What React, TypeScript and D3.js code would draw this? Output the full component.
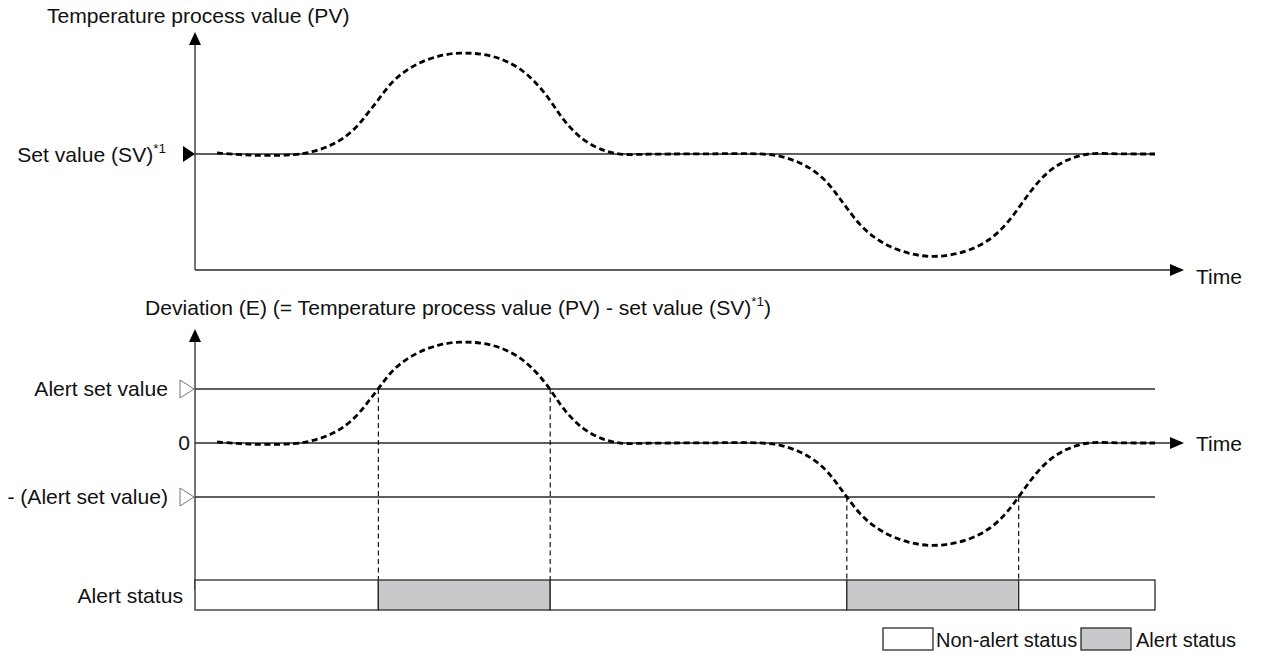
import * as d3 from "d3";

// time runs 0..100 across the plot, deviation is in "alert set value" units
const times = [
  2.3, 5, 7.5, 10.5, 12.3, 14.1, 15.4, 16.9, 18, 19.1, 20.3, 21.7, 23.4, 25.5, 27.6, 29.7, 31.8, 33.9, 35.6, 37,
  38, 39.1, 40.4, 41.9, 43.2, 44.6, 47, 52, 57.2, 59.5, 61.2, 62.9, 64.3, 65.8, 66.9, 67.9, 69.2, 70.6, 72.3, 74.4,
  76.5, 78.6, 80.7, 82.8, 84.5, 85.8, 86.9, 88, 89.3, 90.8, 92.1, 93.5, 96, 100,
];
const deviation = [
  0.02, -0.02, -0.03, -0.02, 0.04, 0.15, 0.28, 0.5, 0.76, 1.0, 1.3, 1.52, 1.7, 1.83, 1.88, 1.86, 1.78, 1.59, 1.31, 1.0,
  0.72, 0.48, 0.26, 0.11, 0.03, -0.02, 0.0, 0.0, 0.01, 0.0, -0.04, -0.15, -0.28, -0.5, -0.76, -1.0, -1.31, -1.53, -1.72, -1.85,
  -1.91, -1.88, -1.79, -1.6, -1.31, -1.0, -0.72, -0.48, -0.26, -0.11, -0.03, 0.02, 0.0, 0.0,
];
const alertSetValue = 1;
const statusStart = [0, 19.1, 37, 67.9, 85.8];
const statusEnd = [19.1, 37, 67.9, 85.8, 100];
const statusAlert = [false, true, false, true, false];
const legendLabels = ["Non-alert status", "Alert status"];

const FONT = "'Liberation Sans', Arial, sans-serif";
const AXIS = "#2b2b2b";
const GRAY = "#c8c9cb";

export default function App(): JSX.Element {
  const x = d3.scaleLinear().domain([0, 100]).range([195, 1155]);
  const yTop = d3.scaleLinear().domain([0, 1]).range([154, 100]);
  const yBot = d3.scaleLinear().domain([0, 1]).range([443, 389]);

  const pts = times.map((t, i) => [t, deviation[i]] as [number, number]);
  const topPath = d3
    .line<[number, number]>()
    .x((d) => x(d[0]))
    .y((d) => yTop(d[1]))
    .curve(d3.curveBasis)(pts);
  const botPath = d3
    .line<[number, number]>()
    .x((d) => x(d[0]))
    .y((d) => yBot(d[1]))
    .curve(d3.curveBasis)(pts);

  const barTop = 580;
  const barBot = 610;
  const crossings = statusStart.slice(1);

  const txt = { fontFamily: FONT, fontSize: 21.1, fill: "#111" };
  const legTxt = { fontFamily: FONT, fontSize: 20, fill: "#111" };

  return (
    <svg width={1266} height={659} style={{ position: "absolute", left: 0, top: 0, background: "#fff" }}>
      {/* ---- top chart: PV ---- */}
      <text x={47} y={23} {...txt}>Temperature process value (PV)</text>
      <line x1={x(0)} x2={x(0)} y1={270} y2={42} stroke={AXIS} strokeWidth={1.3} />
      <path d={`M${x(0)},32 L${x(0) - 6},45 L${x(0) + 6},45 Z`} fill="#000" />
      <line x1={x(0)} x2={1172} y1={270} y2={270} stroke={AXIS} strokeWidth={1.3} />
      <path d={`M1184,270 L1170,264 L1170,276 Z`} fill="#000" />
      <text x={1196} y={284} {...txt}>Time</text>
      <line x1={x(0)} x2={x(100)} y1={yTop(0)} y2={yTop(0)} stroke={AXIS} strokeWidth={1.3} />
      <path d={`M${x(0)},${yTop(0)} L${x(0) - 12},${yTop(0) - 8} L${x(0) - 12},${yTop(0) + 8} Z`} fill="#000" />
      <text x={166} y={162} textAnchor="end" {...txt}>
        Set value (SV)<tspan fontSize={13.5} dy={-9}>*1</tspan>
      </text>
      <path d={topPath ?? ""} fill="none" stroke="#000" strokeWidth={2.8} strokeDasharray="6,3.5" />

      {/* ---- bottom chart: deviation ---- */}
      <text x={145} y={315} {...txt}>
        Deviation (E) (= Temperature process value (PV) - set value (SV)
        <tspan fontSize={13.5} dy={-9}>*1</tspan>
        <tspan dy={9}>)</tspan>
      </text>
      <line x1={x(0)} x2={x(0)} y1={590} y2={340} stroke={AXIS} strokeWidth={1.3} />
      <path d={`M${x(0)},329 L${x(0) - 6},342 L${x(0) + 6},342 Z`} fill="#000" />
      {[alertSetValue, -alertSetValue].map((v) => (
        <g key={v}>
          <line x1={x(0)} x2={x(100)} y1={yBot(v)} y2={yBot(v)} stroke={AXIS} strokeWidth={1.3} />
          <path
            d={`M${x(0) - 1},${yBot(v)} L${x(0) - 15},${yBot(v) - 9} L${x(0) - 15},${yBot(v) + 9} Z`}
            fill="#fff"
            stroke="#777"
            strokeWidth={1}
          />
        </g>
      ))}
      <text x={168} y={yBot(alertSetValue) + 7} textAnchor="end" {...txt}>Alert set value</text>
      <text x={168} y={yBot(-alertSetValue) + 7} textAnchor="end" {...txt}>- (Alert set value)</text>
      <text x={190} y={yBot(0) + 7} textAnchor="end" {...txt}>0</text>
      <line x1={x(0)} x2={1172} y1={yBot(0)} y2={yBot(0)} stroke={AXIS} strokeWidth={1.3} />
      <path d={`M1184,${yBot(0)} L1170,${yBot(0) - 6} L1170,${yBot(0) + 6} Z`} fill="#000" />
      <text x={1196} y={yBot(0) + 8} {...txt}>Time</text>
      <path d={botPath ?? ""} fill="none" stroke="#000" strokeWidth={2.8} strokeDasharray="6,3.5" />

      {/* crossing guides */}
      {crossings.map((t, i) => {
        const v = deviation[times.indexOf(t)] ?? (i % 2 === 0 ? 1 : -1);
        return (
          <line
            key={t}
            x1={x(t)}
            x2={x(t)}
            y1={yBot(v)}
            y2={barTop}
            stroke="#000"
            strokeWidth={1.1}
            strokeDasharray="5,3.5"
          />
        );
      })}

      {/* status bar */}
      <text x={183} y={603} textAnchor="end" {...txt}>Alert status</text>
      {statusStart.map((s, i) => (
        <rect
          key={s}
          x={x(s)}
          y={barTop}
          width={x(statusEnd[i]) - x(s)}
          height={barBot - barTop}
          fill={statusAlert[i] ? GRAY : "#fff"}
          stroke={AXIS}
          strokeWidth={1.3}
        />
      ))}

      {/* legend */}
      <rect x={883} y={628} width={50} height={22} fill="#fff" stroke={AXIS} strokeWidth={1.3} />
      <text x={936} y={647} {...legTxt}>{legendLabels[0]}</text>
      <rect x={1081} y={628} width={50} height={22} fill={GRAY} stroke={AXIS} strokeWidth={1.3} />
      <text x={1136} y={647} {...legTxt}>{legendLabels[1]}</text>
    </svg>
  );
}
